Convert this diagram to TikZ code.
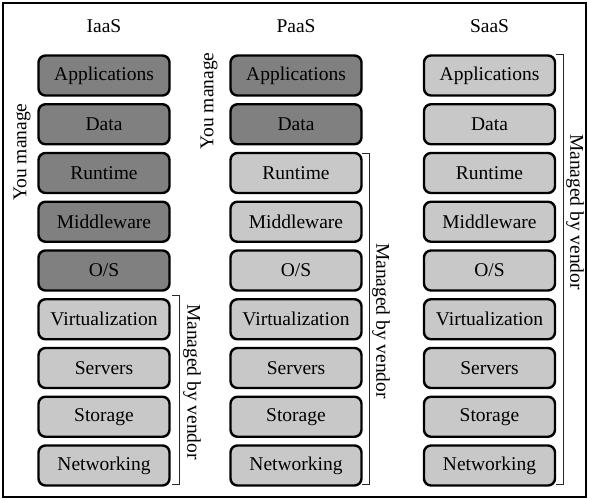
\documentclass[tikz,border=0pt]{standalone}
\usepackage{fontspec}
\setmainfont{Liberation Serif}
\definecolor{mandark}{HTML}{808080}
\definecolor{manlight}{HTML}{C8C8C8}
\begin{document}
\begin{tikzpicture}[x=1pt,y=-1pt,
  txt/.style={font=\rmfamily\fontsize{19.5}{22}\selectfont, inner sep=0pt},
  layer/.style={txt, draw=black, line width=2.4pt, rounded corners=7pt,
    minimum width=131pt, minimum height=40pt},
  you/.style={layer, fill=mandark},
  ven/.style={layer, fill=manlight},
  brk/.style={draw=black!85, line width=0.9pt}]
\useasboundingbox (0,0) rectangle (589,500);
\draw[line width=1.5pt] (3,3) rectangle (586,497);
% titles
\node[txt, anchor=base] (ti) at (104,33) {IaaS};
\node[txt, anchor=base] (tp) at (296,33) {PaaS};
\node[txt, anchor=base] (ts) at (489.5,33) {SaaS};
% layers
\foreach \n/\lab [count=\k from 0] in {1/Applications,2/Data,3/Runtime,4/Middleware,5/{O/S},6/Virtualization,7/Servers,8/Storage,9/Networking}{
  \pgfmathsetmacro{\yy}{75.5+48.75*\k}
  \ifnum\n<6 \node[you] (i\n) at (104,\yy) {\lab};\else\node[ven] (i\n) at (104,\yy) {\lab};\fi
  \ifnum\n<3 \node[you] (p\n) at (296,\yy) {\lab};\else\node[ven] (p\n) at (296,\yy) {\lab};\fi
  \node[ven] (s\n) at (489.5,\yy) {\lab};
}
% brackets
\coordinate (ia) at (172,295); \coordinate (ib) at (179,295);
\coordinate (ic) at (179,484); \coordinate (id) at (172,484);
\draw[brk] (ia) -- (ib) -- (ic) -- (id);
\coordinate (pa) at (362,153); \coordinate (pb) at (369,153);
\coordinate (pc) at (369,484); \coordinate (pd) at (362,484);
\draw[brk] (pa) -- (pb) -- (pc) -- (pd);
\coordinate (sa) at (556,54); \coordinate (sb) at (563,54);
\coordinate (sc) at (563,484); \coordinate (sd) at (556,484);
\draw[brk] (sa) -- (sb) -- (sc) -- (sd);
% side labels
\node[txt, rotate=-90] (vi) at (192,382) {Managed by vendor};
\node[txt, rotate=-90] (vp) at (381,321) {Managed by vendor};
\node[txt, rotate=-90] (vs) at (575,212) {Managed by vendor};
\node[txt, rotate=90] (yi) at (22,152) {You manage};
\node[txt, rotate=90] (yp) at (209,101) {You manage};
\end{tikzpicture}
\end{document}
